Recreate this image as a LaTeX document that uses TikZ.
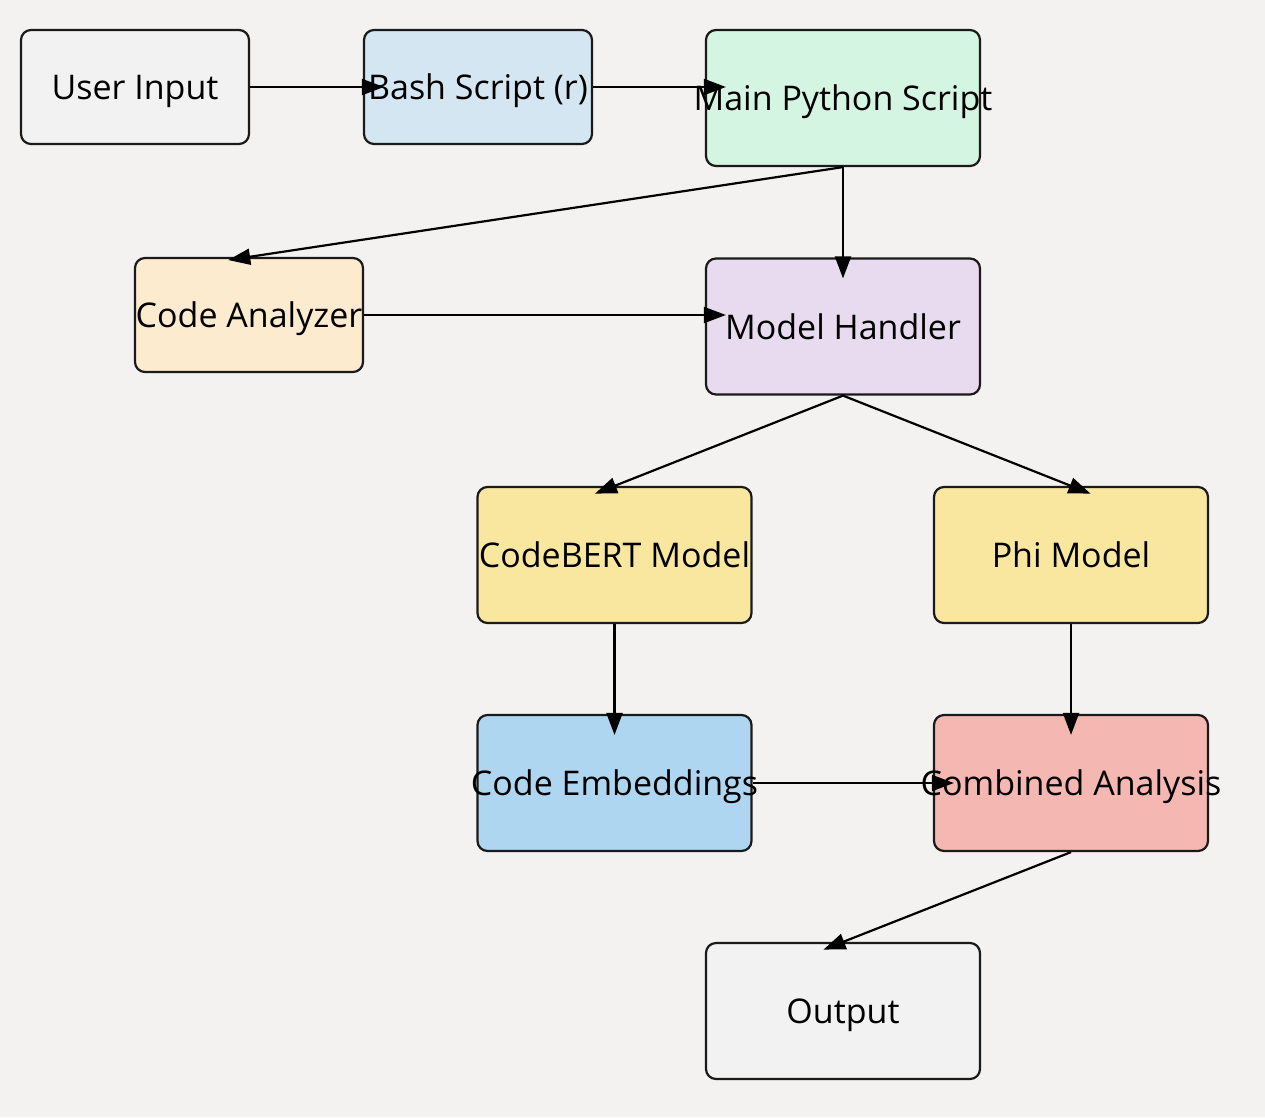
\documentclass[tikz,border=0pt]{standalone}
\usepackage{fontspec}
\setmainfont{Open Sans}
\usetikzlibrary{arrows.meta}
\definecolor{bgc}{HTML}{F3F2F0}
\definecolor{cgray}{HTML}{F2F2F2}
\definecolor{cbash}{HTML}{D4E6F1}
\definecolor{cmain}{HTML}{D5F5E3}
\definecolor{cana}{HTML}{FDEBD0}
\definecolor{cmh}{HTML}{E8DAEF}
\definecolor{cyel}{HTML}{F9E79F}
\definecolor{cemb}{HTML}{AED6F1}
\definecolor{ccomb}{HTML}{F5B7B1}
\definecolor{cline}{HTML}{1A1A1A}
\newcommand{\zt}[1]{\raisebox{-12.5pt}[0pt][0pt]{\makebox[0pt]{#1}}}
\tikzset{
  box/.style={draw=cline, line width=2.2pt, rounded corners=10pt, inner sep=0pt,
    font=\fontsize{34}{40}\selectfont, text=black},
  smallbox/.style={box, minimum width=228pt, minimum height=114pt},
  bigbox/.style={box, minimum width=274pt, minimum height=136pt},
  conn/.style={line width=2.2pt, black, -{Triangle[length=22pt,width=16pt]}, shorten >=-21pt}
}
\begin{document}
\begin{tikzpicture}[x=1pt,y=-1pt]
\fill[bgc] (0,0) rectangle (1265,1117);
\useasboundingbox (0,0) rectangle (1265,1117);
\node[smallbox, fill=cgray] (ui) at (135,87) {\zt{User Input}};
\node[smallbox, fill=cbash] (bash) at (478,87) {\zt{Bash Script (r)}};
\node[bigbox, fill=cmain] (main) at (843,98) {\zt{Main Python Script}};
\node[smallbox, fill=cana] (ca) at (249,315) {\zt{Code Analyzer}};
\node[bigbox, fill=cmh] (mh) at (843,326.5) {\zt{Model Handler}};
\node[bigbox, fill=cyel] (cb) at (614.5,555) {\zt{CodeBERT Model}};
\node[bigbox, fill=cyel] (phi) at (1071,555) {\zt{Phi Model}};
\node[bigbox, fill=cemb] (ce) at (614.5,783) {\zt{Code Embeddings}};
\node[bigbox, fill=ccomb] (comb) at (1071,783) {\zt{Combined Analysis}};
\node[bigbox, fill=cgray] (out) at (843,1011) {\zt{Output}};
\draw[conn] (ui.east) -- (bash.west);
\draw[conn] (bash.east) -- (bash.east -| main.west);
\draw[conn] (main.south) -- (ca.north);
\draw[conn] (main.south) -- (mh.north);
\draw[conn] (ca.east) -- (ca.east -| mh.west);
\draw[conn] (mh.south) -- (cb.north);
\draw[conn] (mh.south) -- (phi.north);
\draw[conn] (cb.south) -- (ce.north);
\draw[conn] (phi.south) -- (comb.north);
\draw[conn] (ce.east) -- (comb.west);
\draw[conn] (comb.south) -- (out.north);
\end{tikzpicture}
\end{document}
